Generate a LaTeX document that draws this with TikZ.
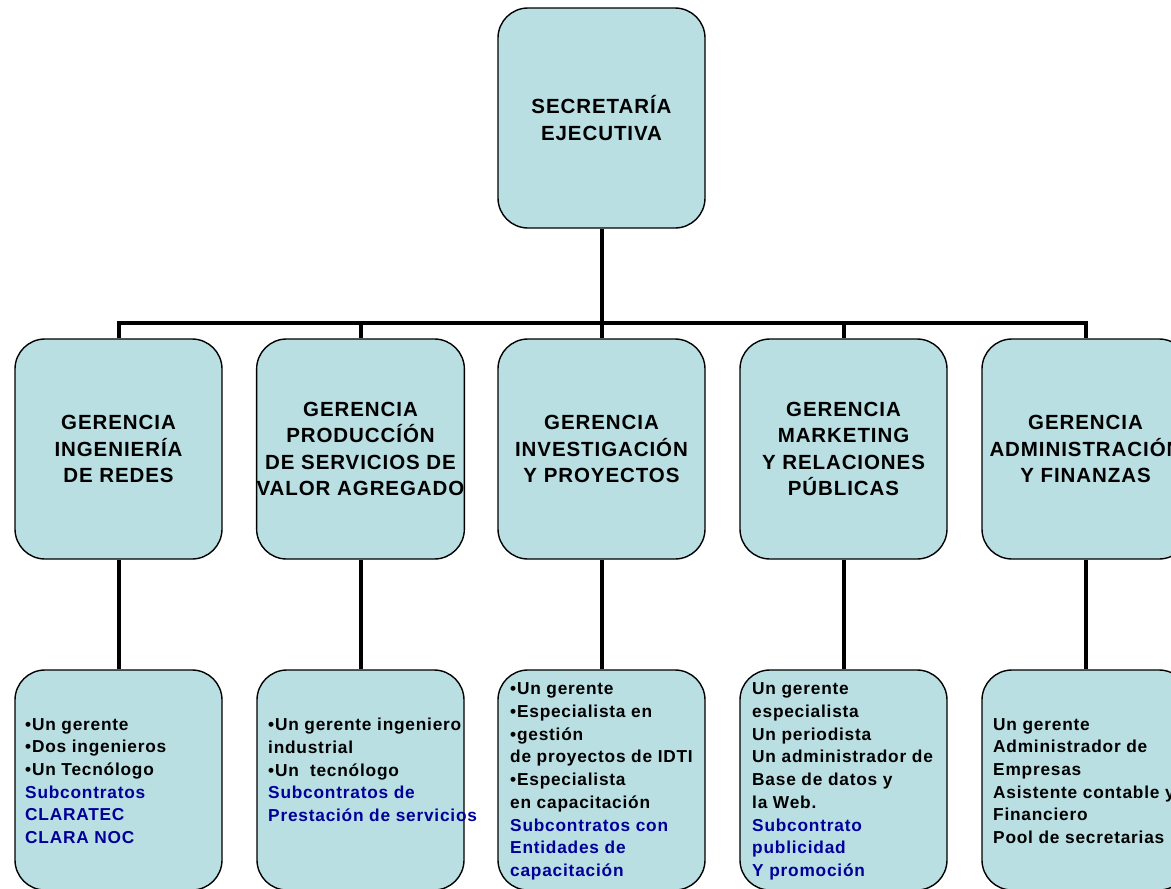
\documentclass[tikz,border=0pt]{standalone}
\usepackage{fontspec}
\setmainfont[LetterSpace=4.5]{Liberation Sans}
\definecolor{boxfill}{RGB}{185,223,227}
\definecolor{subblue}{RGB}{0,0,153}
\begin{document}
\begin{tikzpicture}[x=1pt,y=-1pt,
  orgbox/.style={draw=black, line width=1.4pt, fill=boxfill, rounded corners=30pt,
    minimum width=207pt, minimum height=220pt, inner sep=0pt},
  headtext/.style={font=\bfseries\fontsize{20.5}{26.5}\selectfont, align=center},
  bodytext/.style={font=\bfseries\fontsize{17.3}{22.7}\selectfont, align=left, anchor=west, inner sep=0pt},
  conn/.style={line width=4pt, black}]
\useasboundingbox (0,0) rectangle (1171,889);
\clip (0,0) rectangle (1171,889);
\fill[white] (0,0) rectangle (1171,889);

% top
\node[orgbox, headtext] (top) at (601.5,118) {SECRETARÍA\\ EJECUTIVA};

% middle row
\node[orgbox, headtext] (m1) at (118.5,449) {GERENCIA\\ INGENIERÍA\\ DE REDES};
\node[orgbox, headtext] (m2) at (360.5,449) {GERENCIA\\ PRODUCCÍÓN\\ DE SERVICIOS DE\\ VALOR AGREGADO};
\node[orgbox, headtext] (m3) at (601.5,449) {GERENCIA\\ INVESTIGACIÓN\\ Y PROYECTOS};
\node[orgbox, headtext] (m4) at (843.5,449) {GERENCIA\\ MARKETING\\ Y RELACIONES\\ PÚBLICAS};
\node[orgbox, headtext] (m5) at (1085.5,449) {GERENCIA\\ ADMINISTRACIÓN\\ Y FINANZAS};

% bottom row
\node[orgbox] (b1) at (118.5,780) {};
\node[orgbox] (b2) at (360.5,780) {};
\node[orgbox] (b3) at (601.5,780) {};
\node[orgbox] (b4) at (843.5,780) {};
\node[orgbox] (b5) at (1085.5,780) {};

\node[bodytext] (t1) at (25,781) {•Un gerente\\ •Dos ingenieros\\ •Un Tecnólogo\\ \textcolor{subblue}{Subcontratos}\\ \textcolor{subblue}{CLARATEC}\\ \textcolor{subblue}{CLARA NOC}};
\node[bodytext] (t2) at (268,770) {•Un gerente ingeniero\\ industrial\\ •Un\ \ tecnólogo\\ \textcolor{subblue}{Subcontratos de}\\ \textcolor{subblue}{Prestación de servicios}};
\node[bodytext] (t3) at (510,781.5) {•Un gerente\\ •Especialista en\\ •gestión\\ de proyectos de IDTI\\ •Especialista\\ en capacitación\\ \textcolor{subblue}{Subcontratos con}\\ \textcolor{subblue}{Entidades de}\\ \textcolor{subblue}{capacitación}};
\node[bodytext] (t4) at (752,781.5) {Un gerente\\ especialista\\ Un periodista\\ Un administrador de\\ Base de datos y\\ la Web.\\ \textcolor{subblue}{Subcontrato}\\ \textcolor{subblue}{publicidad}\\ \textcolor{subblue}{Y promoción}};
\node[bodytext] (t5) at (993,781) {Un gerente\\ Administrador de\\ Empresas\\ Asistente contable y\\ Financiero\\ Pool de secretarias};

% connectors
\coordinate (bus) at (601.5,323);
\draw[conn] (top.south) -- (bus);
\draw[conn] (bus) -| (m1.north);
\draw[conn] (bus) -| (m2.north);
\draw[conn] (bus) -- (m3.north);
\draw[conn] (bus) -| (m4.north);
\draw[conn] (bus) -| (m5.north);
\draw[conn] (m1.south) -- (b1.north);
\draw[conn] (m2.south) -- (b2.north);
\draw[conn] (m3.south) -- (b3.north);
\draw[conn] (m4.south) -- (b4.north);
\draw[conn] (m5.south) -- (b5.north);
\end{tikzpicture}
\end{document}
